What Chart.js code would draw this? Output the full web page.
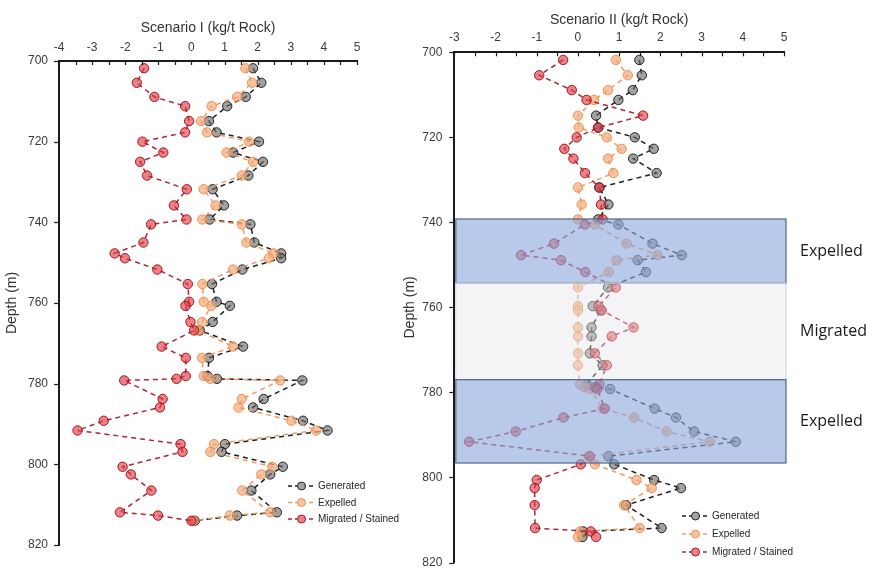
<!DOCTYPE html>
<html><head><meta charset="utf-8">
<script src="https://cdn.jsdelivr.net/npm/chart.js@4"></script>
<style>
body{margin:0;background:#fff;width:874px;height:569px;overflow:hidden;position:relative}
#c1{position:absolute;left:0;top:0}
#c2{position:absolute;left:395px;top:0}
</style></head><body>
<canvas id="c1" width="405" height="569"></canvas>
<canvas id="c2" width="479" height="569"></canvas>
<script>
// ---- data ----
const depths = [701.8,705.4,708.9,711.2,714.9,717.7,720.0,722.7,725.0,728.4,731.8,735.8,739.3,740.5,745.0,747.7,748.9,751.7,755.3,759.7,760.7,764.7,766.8,770.8,773.6,778.1,778.8,779.2,783.8,785.9,789.2,791.6,795.0,796.9,800.6,802.5,806.5,811.9,812.7,814.0];
const seriesNames = ['Generated','Expelled','Migrated / Stained'];
const generatedI = [1.86,2.11,1.64,1.08,0.53,0.76,2.04,1.26,2.16,1.72,0.64,0.98,0.55,1.78,1.90,2.71,2.71,1.54,0.62,0.76,1.16,0.64,0.25,1.56,0.53,0.49,0.77,3.35,2.18,1.86,3.37,4.11,1.01,0.91,2.76,2.38,1.81,2.58,1.38,0.10];
const expelledI = [1.63,1.83,1.38,0.61,0.29,0.47,1.74,1.06,1.86,1.52,0.37,0.73,0.33,1.52,1.66,2.48,2.34,1.26,0.33,0.37,0.60,0.32,0.20,1.26,0.32,0.37,0.57,2.68,1.52,1.42,3.02,3.77,0.68,0.57,2.44,2.11,1.53,2.38,1.16,0.06];
const migratedI = [-1.43,-1.65,-1.12,-0.19,-0.07,-0.19,-1.48,-0.85,-1.55,-1.34,-0.14,-0.53,-0.15,-1.22,-1.45,-2.32,-2.01,-1.03,-0.11,-0.07,-0.18,-0.03,0.08,-0.90,-0.17,-0.17,-0.45,-2.03,-0.87,-0.95,-2.65,-3.44,-0.33,-0.27,-2.08,-1.83,-1.21,-2.16,-1.01,0.00];
const generatedII = [1.49,1.55,1.33,0.98,0.44,0.49,1.38,1.84,1.34,1.91,0.52,0.74,0.49,0.98,1.81,2.52,1.45,1.65,0.73,0.36,0.55,0.33,0.33,0.29,0.60,0.21,0.45,0.78,1.86,2.38,2.82,3.83,0.74,0.88,1.85,2.50,1.17,2.03,0.13,0.11];
const expelledII = [0.92,1.21,0.73,0.39,0.00,0.02,0.70,1.06,0.73,0.86,0.00,0.09,0.00,0.41,1.18,1.93,0.94,0.75,0.00,0.00,0.00,0.00,0.00,0.00,0.00,0.05,0.17,0.30,0.60,1.36,2.15,3.20,0.26,0.41,1.42,1.79,1.12,1.50,0.05,0.00];
const migratedII = [-0.36,-0.94,-0.15,0.21,1.58,0.49,-0.03,-0.33,-0.11,0.17,0.52,0.56,0.60,0.17,-0.58,-1.38,-0.41,0.18,0.92,0.50,0.58,1.35,0.82,0.41,0.70,0.52,0.41,0.47,0.65,-0.35,-1.51,-2.64,0.29,0.07,-1.00,-1.05,-1.05,-1.04,0.31,0.44];
const xTitles = ['Scenario I (kg/t Rock)','Scenario II (kg/t Rock)'];
const yTitle = 'Depth (m)';
const zoneLabels = ['Expelled','Migrated','Expelled'];
const zoneTops = [739.2,754.3,777.0];
const zoneBottoms = [754.3,777.0,796.6];

// ---- styles ----
const styles = [
  {line:'#1e1e1e', fill:'rgba(105,105,105,0.62)', stroke:'rgba(20,20,20,0.9)'},
  {line:'rgba(238,150,95,0.95)', fill:'rgba(244,170,120,0.7)', stroke:'rgba(232,140,80,0.9)'},
  {line:'rgba(170,25,40,0.95)', fill:'rgba(222,55,60,0.62)', stroke:'rgba(160,15,30,0.95)'}
];
Chart.defaults.font.family = '"Liberation Sans", Arial, sans-serif';
Chart.defaults.color = '#404040';

function makeSets(vals){
  return vals.map((arr,i)=>({
    label: seriesNames[i],
    data: arr.map((v,k)=>({x:v,y:depths[k]})),
    showLine:true, borderColor:styles[i].line, borderWidth:1.5, borderDash:[5,4],
    pointRadius:4.7, pointHoverRadius:4.7, pointBorderWidth:1,
    pointBackgroundColor:styles[i].fill, pointBorderColor:styles[i].stroke,
    order: 2-i, tension:0
  }));
}

const deco = {
  id:'deco',
  afterDatasetsDraw(chart, args, o){
    const {ctx, chartArea:a, scales:{x,y}} = chart;
    (o.zones||[]).forEach(z=>{
      const t=y.getPixelForValue(z.top), b=y.getPixelForValue(z.bottom);
      const l=a.left+1.5, r=x.getPixelForValue(x.max)+2;
      ctx.save();
      ctx.fillStyle=z.fill; ctx.fillRect(l,t,r-l,b-t);
      ctx.strokeStyle=z.stroke; ctx.lineWidth=1.2; ctx.strokeRect(l,t,r-l,b-t);
      ctx.fillStyle='#1a1a1a'; ctx.font='16px "Open Sans", sans-serif';
      ctx.textAlign='left'; ctx.textBaseline='middle';
      ctx.fillText(z.label, o.zoneLabelX, (t+b)/2);
      ctx.restore();
    });
  },
  afterDraw(chart, args, o){
    const {ctx, chartArea:a, scales:{x,y}} = chart;
    ctx.save();
    ctx.strokeStyle='#1a1a1a'; ctx.lineWidth=1.2;
    for(let v=x.min; v<=x.max+1e-9; v+=0.5){
      const px=Math.round(x.getPixelForValue(v))+0.5;
      ctx.beginPath(); ctx.moveTo(px,a.top); ctx.lineTo(px,a.top+4); ctx.stroke();
    }
    for(let v=y.min; v<=y.max+1e-9; v+=20){
      const py=Math.round(y.getPixelForValue(v))+0.5;
      ctx.beginPath(); ctx.moveTo(a.left-5,py); ctx.lineTo(a.left,py); ctx.stroke();
    }
    // legend
    chart.data.datasets.forEach((ds,i)=>{
      const ly=o.legY+i*o.legGap, lx=o.legX;
      ctx.save();
      ctx.strokeStyle=ds.borderColor; ctx.lineWidth=1.5; ctx.setLineDash([4,3]);
      ctx.beginPath(); ctx.moveTo(lx,ly); ctx.lineTo(lx+27,ly); ctx.stroke();
      ctx.setLineDash([]);
      ctx.beginPath(); ctx.arc(lx+13.5,ly,4,0,Math.PI*2);
      ctx.fillStyle='#fff'; ctx.fill();
      ctx.fillStyle=ds.pointBackgroundColor; ctx.fill();
      ctx.strokeStyle=ds.pointBorderColor; ctx.lineWidth=1; ctx.stroke();
      ctx.fillStyle='#262626'; ctx.font='10px "Liberation Sans", Arial, sans-serif';
      ctx.textAlign='left'; ctx.textBaseline='middle';
      ctx.fillText(ds.label, lx+30, ly+0.5);
      ctx.restore();
    });
    ctx.restore();
  }
};

function build(id, vals, xmin, cfg){
  return new Chart(document.getElementById(id), {
    type:'scatter',
    data:{datasets:makeSets(vals)},
    plugins:[deco],
    options:{
      responsive:false, animation:false, events:[],
      layout:{padding:cfg.pad},
      plugins:{legend:{display:false}, tooltip:{enabled:false}, deco:cfg.deco},
      scales:{
        x:{type:'linear', position:'top', min:xmin, max:5,
           afterFit:s=>{s.height=cfg.xh; s.paddingLeft=0; s.paddingRight=0;},
           grid:{display:false, drawTicks:false},
           border:{display:true, color:'#1a1a1a', width:2},
           ticks:{stepSize:1, autoSkip:false, maxRotation:0, padding:cfg.xtp, font:{size:12}, color:'#3a3a3a'},
           title:{display:true, text:cfg.title, font:{size:14}, color:'#333', padding:{top:cfg.ttp, bottom:0}}},
        y:{type:'linear', reverse:true, min:700, max:820,
           afterFit:s=>{s.width=cfg.yw; s.paddingTop=0; s.paddingBottom=0;},
           grid:{display:false, drawTicks:false},
           border:{display:true, color:'#1a1a1a', width:2},
           ticks:{stepSize:20, autoSkip:false, padding:cfg.ytp, font:{size:12}, color:'#3a3a3a'},
           title:{display:true, text:yTitle, font:{size:14}, color:'#333', padding:{top:cfg.ytt, bottom:0}}}
      }
    }
  });
}

build('c1', [generatedI, expelledI, migratedI], -4, {
  pad:{left:0, top:0, right:48, bottom:24}, xh:61, yw:59, xtp:6.5, ttp:20, ytp:11, ytt:3.5,
  title:xTitles[0],
  deco:{legX:288, legY:486, legGap:16.5, zones:[]}
});

const zones = zoneLabels.map((lab,i)=>({label:lab, top:zoneTops[i], bottom:zoneBottoms[i],
  fill: i===1 ? 'rgba(228,228,232,0.4)' : 'rgba(140,168,220,0.62)',
  stroke: i===1 ? 'rgba(210,216,228,0.9)' : 'rgba(70,90,125,0.9)'}));

build('c2', [generatedII, expelledII, migratedII], -3, {
  pad:{left:0, top:0, right:90, bottom:6.5}, xh:52.3, yw:59.3, xtp:7, ttp:11.5, ytp:12, ytt:6.5,
  title:xTitles[1],
  deco:{legX:287, legY:516, legGap:18, zones:zones, zoneLabelX:405}
});
</script>
</body></html>
